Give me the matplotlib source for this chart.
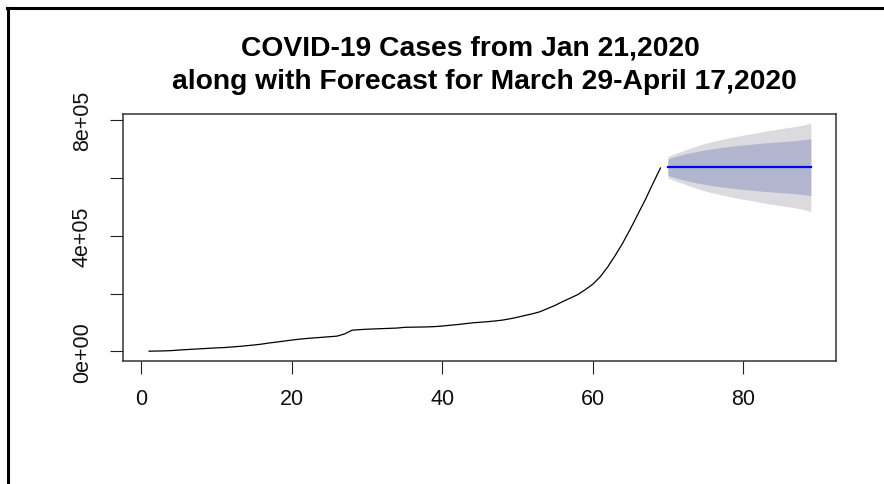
import matplotlib
matplotlib.use("Agg")
import matplotlib.pyplot as plt
from matplotlib.lines import Line2D
import numpy as np

plt.rcParams['font.family'] = ['Liberation Sans', 'DejaVu Sans']

# daily cumulative confirmed cases, day 1 = Jan 21 2020
days = list(range(1, 70))
cases = [500, 1000, 1500, 2500, 4500, 6000, 7500, 9000, 10500, 12000,
         13000, 15000, 17000, 19500, 22000, 25000, 29000, 32000, 35500, 39000,
         42000, 44500, 46500, 48500, 50500, 52500, 60000, 73000, 75000, 76500,
         77500, 78500, 79500, 80500, 83000, 83500, 84000, 84500, 85500, 87500,
         90000, 92500, 95500, 98500, 100500, 102500, 105000, 108000, 112500, 118000,
         124000, 130000, 137000, 148000, 159000, 172000, 184000, 196000, 213000, 232000,
         258000, 292000, 332000, 375000, 423000, 474000, 525000, 580000, 634000]

# 20-day forecast (Mar 29 - Apr 17) with 80% / 95% intervals
fc_days = list(range(70, 90))
fc_mean = [636700] * 20
hi80 = [666000, 674000, 681000, 687000, 692000, 697000, 701000, 705000, 708000, 711000,
        714000, 716000, 719000, 721000, 723000, 725000, 727000, 729000, 732000, 735000]
lo80 = [608000, 600000, 593000, 587000, 582000, 577000, 573000, 569000, 566000, 563000,
        560000, 558000, 555000, 553000, 551000, 549000, 547000, 545000, 542000, 539000]
hi95 = [674000, 685000, 694000, 703000, 712000, 720000, 726000, 732000, 738000, 743000,
        748000, 752000, 757000, 762000, 766000, 770000, 774000, 778000, 783000, 789000]
lo95 = [600000, 589000, 580000, 571000, 562000, 554000, 548000, 542000, 536000, 531000,
        526000, 522000, 517000, 512000, 508000, 504000, 500000, 496000, 491000, 483000]

fig = plt.figure(figsize=(8.84, 4.85), dpi=100)
ax = fig.add_axes([0.1388, 0.2542, 0.8069, 0.5093])

ax.plot(days, cases, color='black', lw=0.9)
ax.fill_between(fc_days, lo95, hi95, color='#dbdbdf', lw=0)
ax.fill_between(fc_days, lo80, hi80, color='#b1b5ce', lw=0)
ax.plot(fc_days, fc_mean, color='#0000ff', lw=1.6)

ax.set_xlim(-2.5, 92.35)
ax.set_ylim(-32500, 822000)
ax.set_xticks([0, 20, 40, 60, 80])
ax.set_yticks([0, 200000, 400000, 600000, 800000])
ax.set_yticklabels(['0e+00', '', '4e+05', '', '8e+05'], rotation=90, va='center')
ax.tick_params(axis='both', length=9.5, width=0.8, color='#222222',
               labelsize=15.5, labelcolor='#111111')
ax.tick_params(axis='x', pad=10)
ax.tick_params(axis='y', pad=12)
for s in ax.spines.values():
    s.set_color('#333333')
    s.set_linewidth(1.1)

fig.text(0.532, 0.899, 'COVID-19 Cases from Jan 21,2020', ha='center', va='center',
         fontsize=20.3, fontweight='bold')
fig.text(0.548, 0.830, 'along with Forecast for March 29-April 17,2020', ha='center',
         va='center', fontsize=20.3, fontweight='bold')

# screenshot frame on top and left edges
fig.add_artist(Line2D([0.008, 1.0], [0.981, 0.981], color='black', lw=2.2,
                      transform=fig.transFigure))
fig.add_artist(Line2D([0.009, 0.009], [0.0, 0.982], color='black', lw=2.2,
                      transform=fig.transFigure))

fig.savefig('out.png', dpi=100)
